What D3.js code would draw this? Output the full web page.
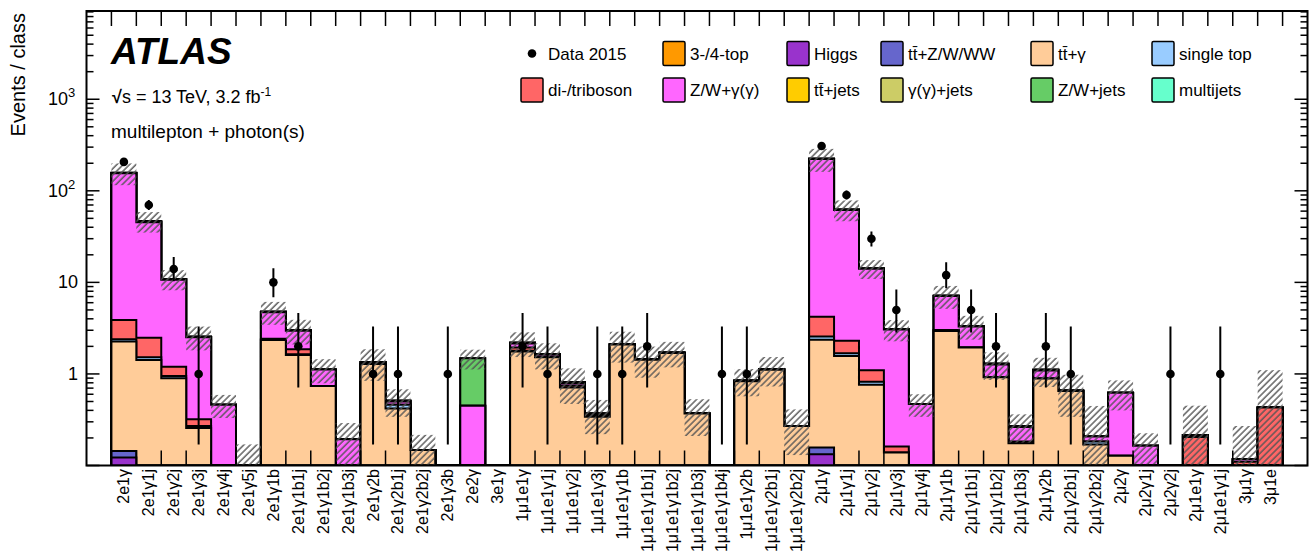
<!DOCTYPE html>
<html>
<head>
<meta charset="utf-8">
<script src="https://cdn.jsdelivr.net/npm/d3@7"></script>
<style>
  body { margin: 0; background: #fff; }
  text { font-family: "Liberation Sans", Arial, Helvetica, sans-serif; fill: #000; }
</style>
</head>
<body>
<div id="chart"></div>
<script>
// Chart size and frame
const width = 1314;
const height = 556;
const frame = { left: 86.5, right: 1307.5, top: 11, bottom: 465.5 };

// Event classes (x categories)
const classes = [
  "2e1γ", "2e1γ1j", "2e1γ2j", "2e1γ3j", "2e1γ4j", "2e1γ5j", "2e1γ1b", "2e1γ1b1j",
  "2e1γ1b2j", "2e1γ1b3j", "2e1γ2b", "2e1γ2b1j", "2e1γ2b2j", "2e1γ3b", "2e2γ", "3e1γ",
  "1μ1e1γ", "1μ1e1γ1j", "1μ1e1γ2j", "1μ1e1γ3j", "1μ1e1γ1b", "1μ1e1γ1b1j", "1μ1e1γ1b2j",
  "1μ1e1γ1b3j", "1μ1e1γ1b4j", "1μ1e1γ2b", "1μ1e1γ2b1j", "1μ1e1γ2b2j",
  "2μ1γ", "2μ1γ1j", "2μ1γ2j", "2μ1γ3j", "2μ1γ4j", "2μ1γ1b", "2μ1γ1b1j", "2μ1γ1b2j",
  "2μ1γ1b3j", "2μ1γ2b", "2μ1γ2b1j", "2μ1γ2b2j", "2μ2γ", "2μ2γ1j", "2μ2γ2j",
  "2μ1e1γ", "2μ1e1γ1j", "3μ1γ", "3μ1e"
];

// Background processes, stacked bottom -> top (one value per class)
const top34 = [0.004,0,0,0,0,0,0,0,0,0,0,0,0,0,0,0,0,0,0,0,0,0,0,0,0,0,0,0,0.005,0,0,0,0,0,0,0,0,0,0,0,0,0,0,0,0,0,0];
const higgs = [0.118,0.04,0.02,0,0,0,0.02,0,0,0,0,0,0,0,0,0,0,0,0,0,0,0,0,0,0,0,0,0,0.128,0.03,0,0,0,0,0,0,0,0,0,0,0,0,0,0,0,0,0];
const ttV = [0.022,0.03,0.03,0.02,0,0,0.05,0.03,0.02,0,0.02,0,0,0,0,0,0.03,0.02,0,0,0.03,0.03,0.02,0,0,0,0,0,0.024,0.04,0.03,0,0,0.05,0.03,0.02,0,0,0,0,0,0,0,0,0,0,0];
const ttGamma = [2.11,1.35,0.85,0.236,0.01,0,2.28,1.58,0.72,0.06,1.26,0.42,0.148,0,0,0,1.73,1.50,0.71,0.34,2.06,1.40,1.67,0.37,0,0.83,1.11,0.27,2.2,1.5,0.73,0.139,0,2.9,1.92,0.9,0.175,0.89,0.65,0.17,0.128,0,0,0,0,0,0];
const singleTop = [0.14,0.10,0.05,0.014,0,0,0.03,0.03,0,0,0,0.04,0,0,0,0,0.03,0,0,0,0,0,0,0,0,0,0,0,0.2,0.11,0.06,0,0,0.07,0,0,0,0,0,0.013,0,0,0,0,0,0,0];
const diboson = [1.5,0.97,0.25,0.05,0,0,0.05,0.22,0,0,0,0,0,0,0,0,0.15,0,0.04,0.017,0,0,0,0,0,0,0,0,1.65,0.63,0.28,0.022,0,0,0,0,0.008,0,0,0,0,0,0,0.205,0,0.11,0.43];
const vGamma = [152,43,9.5,2.2,0.45,0.08,2.3,1.1,0.38,0.134,0.05,0.04,0,0,0.45,0,0.21,0.10,0.04,0,0,0,0,0,0,0,0,0,219,59.6,13,2.9,0.47,4.07,1.35,0.35,0.08,0.2,0,0.024,0.497,0.164,0,0.011,0,0.007,0];
const ttJets = [0.3,0.2,0.1,0.03,0,0,0.05,0.04,0,0,0.02,0.01,0,0,0,0,0.04,0.02,0.02,0.013,0.02,0.02,0.02,0,0,0.02,0.02,0,0.3,0.2,0.1,0.01,0,0.05,0.04,0.02,0.007,0.02,0.01,0,0,0,0,0,0,0,0];
const gammaJets = [0.2,0.1,0,0,0,0,0,0,0,0,0,0,0,0,0,0,0,0,0,0,0,0,0,0,0,0,0,0,0.2,0.1,0,0,0,0,0,0,0,0,0,0,0,0,0,0,0,0,0];
const vJets = [0.8,1.0,0.1,0,0,0,0,0,0,0,0,0,0,0,1.03,0,0,0,0,0,0,0,0,0,0,0,0,0,0.3,0.3,0,0,0,0,0,0,0,0,0,0,0,0,0,0,0,0,0];
const multijets = [0,0,0,0,0,0,0,0,0,0,0,0,0,0,0,0,0,0,0,0,0,0,0,0,0,0,0,0,0,0,0,0,0,0,0,0,0,0,0,0,0,0,0,0,0,0,0];

// Total background uncertainty (absolute)
const bkgUnc = [42,11.8,2.7,0.74,0.13,0.09,1.34,0.9,0.33,0.097,0.51,0.17,0.068,0,0.36,0,0.66,0.52,0.34,0.15,0.78,0.54,0.53,0.16,0,0.28,0.40,0.14,63,16,3.3,0.8,0.13,2.0,0.97,0.43,0.092,0.39,0.32,0.24,0.225,0.061,0,0.234,0,0.153,0.67];

// Data 2015 with error bar ends
const dataVals = [207,70,14,1,0,0,10,2,0,0,1,1,0,1,0,0,2,1,0,1,1,2,0,0,1,1,0,0,309,90,30,5,0,12,5,2,0,2,1,0,0,0,1,0,1,0,0];
const dataLo = [193,61.6,10.3,0.17,0,0,6.89,0.71,0,0,0.17,0.17,0,0.17,0,0,0.71,0.17,0,0.17,0.17,0.71,0,0,0.17,0.17,0,0,292,80.5,24.6,2.84,0,8.6,2.84,0.71,0,0.71,0.17,0,0,0,0.17,0,0.17,0,0];
const dataHi = [222,79.4,18.9,3.3,0,0,14.3,4.64,0,0,3.3,3.3,0,3.3,0,0,4.64,3.3,0,3.3,3.3,4.64,0,0,3.3,3.3,0,0,327,100.5,36,8.38,0,16.6,8.38,4.64,0,4.64,3.3,0,0,0,3.3,0,3.3,0,0];

const processes = [
  { name: "3-/4-top", values: top34, color: "#ff9900" },
  { name: "Higgs", values: higgs, color: "#9933cc" },
  { name: "tt̄+Z/W/WW", values: ttV, color: "#6666cc" },
  { name: "tt̄+γ", values: ttGamma, color: "#ffcc99" },
  { name: "single top", values: singleTop, color: "#99ccff" },
  { name: "di-/triboson", values: diboson, color: "#ff6666" },
  { name: "Z/W+γ(γ)", values: vGamma, color: "#ff66ff" },
  { name: "tt̄+jets", values: ttJets, color: "#ffcc00" },
  { name: "γ(γ)+jets", values: gammaJets, color: "#cccc66" },
  { name: "Z/W+jets", values: vJets, color: "#66cc66" },
  { name: "multijets", values: multijets, color: "#66ffcc" }
];

const svg = d3.select("#chart")
  .append("svg")
  .attr("width", width)
  .attr("height", height);

// Hatch pattern for the uncertainty band
const defs = svg.append("defs");
defs.append("pattern")
  .attr("id", "hatch")
  .attr("patternUnits", "userSpaceOnUse")
  .attr("width", 4.5)
  .attr("height", 4.5)
  .attr("patternTransform", "rotate(45)")
  .append("line")
  .attr("x1", 1).attr("y1", 0)
  .attr("x2", 1).attr("y2", 4.5)
  .attr("stroke", "#555")
  .attr("stroke-width", 1.4);

defs.append("clipPath")
  .attr("id", "plotclip")
  .append("rect")
  .attr("x", frame.left)
  .attr("y", frame.top)
  .attr("width", frame.right - frame.left)
  .attr("height", frame.bottom - frame.top);

// Scales: one empty slot on each side of the classes
const x = d3.scaleLinear()
  .domain([-1, classes.length + 1])
  .range([frame.left, frame.right]);

const y = d3.scaleLog()
  .domain([0.1, 9200])
  .range([frame.bottom, frame.top])
  .clamp(true);

const yv = (v) => y(Math.max(v, 1e-4));

// Cumulative stacks
const cumul = [];
let running = classes.map(() => 0);
processes.forEach((p) => {
  running = running.map((r, i) => r + p.values[i]);
  cumul.push(running.slice());
});
const total = cumul[cumul.length - 1];

const plot = svg.append("g").attr("clip-path", "url(#plotclip)");

const area = d3.area()
  .curve(d3.curveStepAfter)
  .x((d) => x(d.i))
  .y0(frame.bottom + 2)
  .y1((d) => yv(d.v));

// Draw from the full sum down so each lower layer overlays the one above
for (let k = cumul.length - 1; k >= 0; k--) {
  const pts = cumul[k].map((v, i) => ({ i: i, v: v }));
  pts.push({ i: classes.length, v: cumul[k][classes.length - 1] });
  plot.append("path")
    .datum(pts)
    .attr("d", area)
    .attr("fill", processes[k].color)
    .attr("stroke", "#000")
    .attr("stroke-width", 2);
}

// Uncertainty band
plot.selectAll(".unc")
  .data(classes.map((c, i) => ({ i: i, t: total[i], u: bkgUnc[i] })).filter((d) => d.u > 0))
  .enter()
  .append("rect")
  .attr("class", "unc")
  .attr("x", (d) => x(d.i))
  .attr("width", (d) => x(d.i + 1) - x(d.i))
  .attr("y", (d) => yv(d.t + d.u))
  .attr("height", (d) => yv(d.t - d.u) - yv(d.t + d.u))
  .attr("fill", "url(#hatch)");

// Data points
const dataPts = classes.map((c, i) => ({ i: i, v: dataVals[i], lo: dataLo[i], hi: dataHi[i] }))
  .filter((d) => d.v > 0);

plot.selectAll(".err")
  .data(dataPts)
  .enter()
  .append("line")
  .attr("class", "err")
  .attr("x1", (d) => x(d.i + 0.5))
  .attr("x2", (d) => x(d.i + 0.5))
  .attr("y1", (d) => yv(d.lo))
  .attr("y2", (d) => yv(d.hi))
  .attr("stroke", "#000")
  .attr("stroke-width", 2);

plot.selectAll(".dot")
  .data(dataPts)
  .enter()
  .append("circle")
  .attr("class", "dot")
  .attr("cx", (d) => x(d.i + 0.5))
  .attr("cy", (d) => yv(d.v))
  .attr("r", 4.3)
  .attr("fill", "#000");

// Frame
svg.append("rect")
  .attr("x", frame.left)
  .attr("y", frame.top)
  .attr("width", frame.right - frame.left)
  .attr("height", frame.bottom - frame.top)
  .attr("fill", "none")
  .attr("stroke", "#000")
  .attr("stroke-width", 2);

// X ticks at class edges (inside, top and bottom)
const edges = d3.range(0, classes.length + 1);
const ticks = svg.append("g").attr("stroke", "#000").attr("stroke-width", 1.5);
edges.forEach((e) => {
  ticks.append("line")
    .attr("x1", x(e)).attr("x2", x(e))
    .attr("y1", frame.bottom).attr("y2", frame.bottom - 15);
  ticks.append("line")
    .attr("x1", x(e)).attr("x2", x(e))
    .attr("y1", frame.top).attr("y2", frame.top + 15);
});

// Y ticks (log), both sides, inward
const yTicks = [];
for (let p = -1; p <= 3; p++) {
  for (let m = 1; m <= 9; m++) {
    const v = m * Math.pow(10, p);
    if (v >= 0.1 && v <= 9200) yTicks.push({ v: v, major: m === 1 });
  }
}
yTicks.forEach((t) => {
  const len = t.major ? 13 : 7;
  ticks.append("line")
    .attr("x1", frame.left).attr("x2", frame.left + len)
    .attr("y1", y(t.v)).attr("y2", y(t.v));
  ticks.append("line")
    .attr("x1", frame.right).attr("x2", frame.right - len)
    .attr("y1", y(t.v)).attr("y2", y(t.v));
});

// Y tick labels
const yLabels = [
  { v: 1, base: "1", exp: "" },
  { v: 10, base: "10", exp: "" },
  { v: 100, base: "10", exp: "2" },
  { v: 1000, base: "10", exp: "3" }
];
yLabels.forEach((l) => {
  svg.append("text")
    .attr("x", l.exp ? 68 : 78)
    .attr("y", y(l.v) + 6)
    .attr("text-anchor", "end")
    .style("font-size", "18px")
    .text(l.base);
  if (l.exp) {
    svg.append("text")
      .attr("x", 68)
      .attr("y", y(l.v) - 2)
      .style("font-size", "13px")
      .text(l.exp);
  }
});

svg.append("text")
  .attr("transform", "translate(25, 13) rotate(-90)")
  .attr("text-anchor", "end")
  .style("font-size", "20px")
  .text("Events / class");

// X labels
svg.selectAll(".xlab")
  .data(classes)
  .enter()
  .append("text")
  .attr("class", "xlab")
  .attr("transform", (d, i) => `translate(${x(i + 0.5) + 5.5}, 469) rotate(-90)`)
  .attr("text-anchor", "end")
  .style("font-size", "16px")
  .text((d) => d);

// ATLAS labels
svg.append("text")
  .attr("x", 111)
  .attr("y", 64)
  .style("font-size", "37px")
  .style("font-weight", "bold")
  .style("font-style", "italic")
  .text("ATLAS");

const lumi = svg.append("text")
  .attr("x", 112)
  .attr("y", 103)
  .style("font-size", "18px");
lumi.append("tspan").style("font-weight", "bold").text("√");
lumi.append("tspan").text("s = 13 TeV, 3.2 fb");
lumi.append("tspan").attr("dy", -7).style("font-size", "12px").text("-1");

svg.append("text")
  .attr("x", 111)
  .attr("y", 138)
  .style("font-size", "19px")
  .text("multilepton + photon(s)");

// Legend: row 1 then row 2
const legendCols = [521, 663, 787, 881, 1031, 1152];
const legendRows = [53.5, 90];
const legendOrder = [{ name: "Data 2015", data: true }].concat(processes);
const legend = svg.append("g").attr("id", "legend");
legendOrder.forEach((item, n) => {
  const col = n % 6;
  const row = Math.floor(n / 6);
  const bx = legendCols[col];
  const cy = legendRows[row];
  if (item.data) {
    legend.append("circle")
      .attr("cx", bx + 11)
      .attr("cy", cy)
      .attr("r", 4.3)
      .attr("fill", "#000");
  } else {
    legend.append("rect")
      .attr("x", bx)
      .attr("y", cy - 12)
      .attr("width", 22)
      .attr("height", 24)
      .attr("rx", 1.5)
      .attr("fill", item.color)
      .attr("stroke", "#000")
      .attr("stroke-width", 1.5);
  }
  legend.append("text")
    .attr("x", bx + 27)
    .attr("y", cy + 6)
    .style("font-size", "17px")
    .text(item.name);
});
</script>
</body>
</html>
